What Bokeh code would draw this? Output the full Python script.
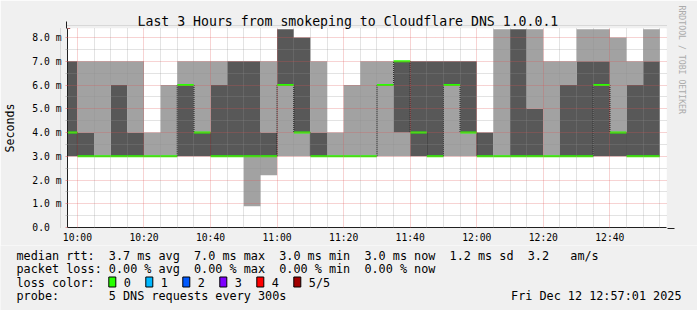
import re
from math import pi
from datetime import datetime, timedelta

from bokeh.plotting import figure
from bokeh.layouts import column
from bokeh.models import (Range1d, FixedTicker, DatetimeTickFormatter, Arrow, NormalHead, Title)
from bokeh.core.properties import value
from bokeh.embed import file_html
from bokeh.resources import INLINE

# ---------------- data ----------------
DAY = "2025-12-12"
range_start = "09:57:01"
range_end = "12:57:01"
interval_minutes = 5

interval_starts = ["09:55", "10:00", "10:05", "10:10", "10:15", "10:20", "10:25", "10:30",
                   "10:35", "10:40", "10:45", "10:50", "10:55", "11:00", "11:05", "11:10",
                   "11:15", "11:20", "11:25", "11:30", "11:35", "11:40", "11:45", "11:50",
                   "11:55", "12:00", "12:05", "12:10", "12:15", "12:20", "12:25", "12:30",
                   "12:35", "12:40", "12:45", "12:50"]

# sorted round-trip times (ms) of the 5 DNS requests in each interval
ping1 = [3, 3, 3, 3, 3, 3, 3, 3, 3, 3, 3, 0.9, 2.2, 3, 3, 3, 3, 3, 3, 3, 3, 3, 3, 3, 3, 3,
         3, 3, 3, 3, 3, 3, 3, 3, 3, 3]
ping2 = [3, 3, 3, 3, 3, 3, 3, 3, 3, 3, 3, 3, 3, 6, 4, 3, 3, 3, 3, 6, 4, 3, 3, 6, 4, 3,
         3, 3, 3, 3, 3, 3, 3, 3, 3, 3]
ping3 = [4, 3, 3, 3, 3, 3, 3, 6, 4, 3, 3, 3, 3, 6, 4, 3, 3, 3, 3, 6, 7, 4, 3, 6, 4, 3,
         3, 3, 3, 3, 3, 3, 6, 4, 3, 3]          # median
ping4 = [7, 4, 3, 6, 4, 3, 3, 6, 4, 6, 7, 7, 4, 8.35, 8, 4, 3, 3, 3, 6, 7, 7, 7, 7, 7, 4,
         3, 8.35, 5, 3, 6, 7, 7, 4, 6, 7]
ping5 = [7, 7, 7, 7, 7, 4, 6, 7, 7, 7, 7, 7, 7, 8.35, 8, 7, 4, 6, 7, 7, 7, 7, 7, 7, 7, 4,
         8.35, 8.35, 8.35, 7, 7, 8.35, 8.35, 8, 7, 8.35]

ytick_values = [0, 1, 2, 3, 4, 5, 6, 7, 8]
ytick_labels = ["0.0\u00a0\u00a0", "1.0 m", "2.0 m", "3.0 m", "4.0 m", "5.0 m", "6.0 m",
                "7.0 m", "8.0 m"]
xtick_labels = ["10:00", "10:20", "10:40", "11:00", "11:20", "11:40", "12:00", "12:20", "12:40"]
y_max = 8.38

loss_levels = ["0", "1", "2", "3", "4", "5/5"]
loss_colors = ["#26ff00", "#00b8ff", "#0059ff", "#7e00ff", "#ff0000", "#a10000"]

title_text = "Last 3 Hours from smokeping to Cloudflare DNS 1.0.0.1"
y_title = "Seconds"
stats_lines = [
    "median rtt:  3.7 ms avg  7.0 ms max  3.0 ms min  3.0 ms now  1.2 ms sd  3.2   am/s",
    "packet loss: 0.00 % avg  0.00 % max  0.00 % min  0.00 % now",
    "loss color:",
    "probe:       5 DNS requests every 300s",
]
date_text = "Fri Dec 12 12:57:01 2025"
watermark = "RRDTOOL / TOBI OETIKER"

# ---------------- helpers ----------------
EPOCH = datetime(1970, 1, 1)


def to_ms(hhmm):
    parts = [int(v) for v in hhmm.split(":")]
    while len(parts) < 3:
        parts.append(0)
    dt = datetime.fromisoformat(DAY) + timedelta(hours=parts[0], minutes=parts[1], seconds=parts[2])
    return (dt - EPOCH).total_seconds() * 1000.0


step_ms = interval_minutes * 60 * 1000.0
xs = [to_ms(s) for s in interval_starts]
xs_step = xs + [xs[-1] + step_ms]


def ext(a):
    return list(a) + [a[-1]]


FONT = "DejaVu Sans Mono"
LIGHT = "#a2a2a2"
DARK = "#585858"
BACK = "#f0f0f0"

W = 697
H_MAIN, H_LEG = 245, 65
LEFT, RIGHT, TOP, BOTTOM = 66, 31, 28, 17

# ---------------- main chart ----------------
p = figure(width=W, height=H_MAIN, output_backend="svg", toolbar_location=None,
           x_range=Range1d(to_ms(range_start), to_ms(range_end)),
           y_range=Range1d(0, y_max),
           min_border_left=LEFT, min_border_right=RIGHT,
           min_border_top=TOP, min_border_bottom=BOTTOM)
p.frame_align = False
p.background_fill_color = "white"
p.border_fill_color = BACK
p.outline_line_color = None

# smoke bands
bands = [(ping1, ping2, LIGHT), (ping2, ping3, DARK), (ping3, ping4, DARK), (ping4, ping5, LIGHT)]
for lo, hi, col in bands:
    p.varea_step(x=xs_step, y1=ext(lo), y2=ext(hi), step_mode="after", fill_color=col)

# median line: black dotted step connectors + green (0 loss) horizontals
p.segment(x0=xs[1:], x1=xs[1:], y0=ping3[:-1], y1=ping3[1:], line_color="black",
          line_width=1, line_dash="1 1")
p.segment(x0=xs, x1=[x + step_ms for x in xs], y0=ping3, y1=ping3,
          line_color=loss_colors[0], line_width=2, line_cap="butt")

# axes / grid
major_x = [to_ms(t) for t in xtick_labels]
minor_x = [x for x in xs_step if x not in major_x]
p.xaxis.ticker = FixedTicker(ticks=major_x, minor_ticks=minor_x)
p.xaxis.formatter = DatetimeTickFormatter(minsec="%H:%M", minutes="%H:%M", hourmin="%H:%M",
                                          hours="%H:%M")
minor_y = [v + 0.5 for v in ytick_values]
p.yaxis.ticker = FixedTicker(ticks=ytick_values, minor_ticks=minor_y)
p.yaxis.major_label_overrides = {v: lab for v, lab in zip(ytick_values, ytick_labels)}

for ax in (p.xaxis[0], p.yaxis[0]):
    ax.axis_line_color = "#202020"
    ax.major_label_text_font = FONT
    ax.major_label_text_font_size = "9.7px"
    ax.major_label_text_color = "black"

p.xaxis.major_tick_in = 0
p.xaxis.major_tick_out = 0
p.xaxis.minor_tick_in = 0
p.xaxis.minor_tick_out = 0
p.xaxis.major_label_standoff = 4

p.yaxis.major_tick_in = 0
p.yaxis.major_tick_out = 2
p.yaxis.minor_tick_in = 0
p.yaxis.minor_tick_out = 2
p.yaxis.major_tick_line_color = "#e05050"
p.yaxis.major_tick_line_alpha = 0.5
p.yaxis.minor_tick_line_color = "#909090"
p.yaxis.minor_tick_line_alpha = 0.5
p.yaxis.major_label_standoff = 4
p.yaxis.axis_label = y_title
p.yaxis.axis_label_text_font = FONT
p.yaxis.axis_label_text_font_size = "11.6px"
p.yaxis.axis_label_text_font_style = "normal"
p.yaxis.axis_label_text_color = "black"
p.yaxis.axis_label_standoff = 12

for g in (p.xgrid[0], p.ygrid[0]):
    g.level = "overlay"
    g.grid_line_color = "#e05050"
    g.grid_line_alpha = 0.5
    g.grid_line_dash = "1 1"
    g.minor_grid_line_color = "#909090"
    g.minor_grid_line_alpha = 0.5
    g.minor_grid_line_dash = "1 1"

# axis arrows
frame_bottom = H_MAIN - BOTTOM
frame_right = W - RIGHT
p.add_layout(Arrow(end=NormalHead(size=7, fill_color="#800000", line_color="#800000"),
                   x_start=LEFT, y_start=frame_bottom, x_end=LEFT, y_end=21,
                   start_units="canvas", end_units="canvas", line_color="#202020", line_width=1))
p.add_layout(Arrow(end=NormalHead(size=7, fill_color="#800000", line_color="#800000"),
                   x_start=LEFT, y_start=frame_bottom, x_end=frame_right + 8, y_end=frame_bottom,
                   start_units="canvas", end_units="canvas", line_color="#202020", line_width=1))

# title and watermark in the side panels
p.add_layout(Title(text=title_text, align="left", offset=70, standoff=0,
                   text_font=FONT, text_font_size="13.2px", text_font_style="normal",
                   text_color="black"), "above")
p.add_layout(Title(text=watermark, align="left", offset=-23, standoff=16, vertical_align="top",
                   text_font=FONT, text_font_size="8.2px", text_font_style="normal",
                   text_color="#ababab"), "right")

# ---------------- legend / stats area ----------------
q = figure(width=W, height=H_LEG, output_backend="svg", toolbar_location=None,
           x_range=Range1d(0, W), y_range=Range1d(H_LEG, 0),
           min_border=0, x_axis_location=None, y_axis_location=None)
q.frame_align = False
q.grid.visible = False
q.outline_line_color = None
q.background_fill_color = BACK
q.border_fill_color = BACK

CHAR_W = 7.1
TEXT_X0 = 16
baselines = [10, 23.5, 37, 50.5]
tok_x, tok_y, tok_t = [], [], []
for line, yb in zip(stats_lines, baselines):
    for m in re.finditer(r"\S+(?: \S+)*", line):
        tok_x.append(TEXT_X0 + m.start() * CHAR_W)
        tok_y.append(yb)
        tok_t.append(m.group(0))
q.text(x=tok_x, y=tok_y, text=tok_t, text_align="left", text_baseline="alphabetic",
       text_font=value(FONT), text_font_size=value("11.8px"), text_color="black")
q.text(x=[681], y=[baselines[3]], text=[date_text], text_align="right",
       text_baseline="alphabetic", text_font=value(FONT), text_font_size=value("11.8px"),
       text_color="black")

# loss colour swatches
pitch = 37.0
box_x0 = TEXT_X0 + 13 * CHAR_W
bx = [box_x0 + i * pitch for i in range(len(loss_levels))]
q.quad(left=bx, right=[b + 7 for b in bx], top=[baselines[2] - 5.5] * len(bx),
       bottom=[baselines[2] + 4.5] * len(bx), fill_color=loss_colors, line_color="black",
       line_width=1)
q.text(x=[b + 15 for b in bx], y=[baselines[2]] * len(bx), text=loss_levels,
       text_align="left", text_baseline="alphabetic", text_font=value(FONT),
       text_font_size=value("11.8px"), text_color="black")

layout = column(p, q, spacing=0)
open("out.html", "w").write(file_html(layout, INLINE))
